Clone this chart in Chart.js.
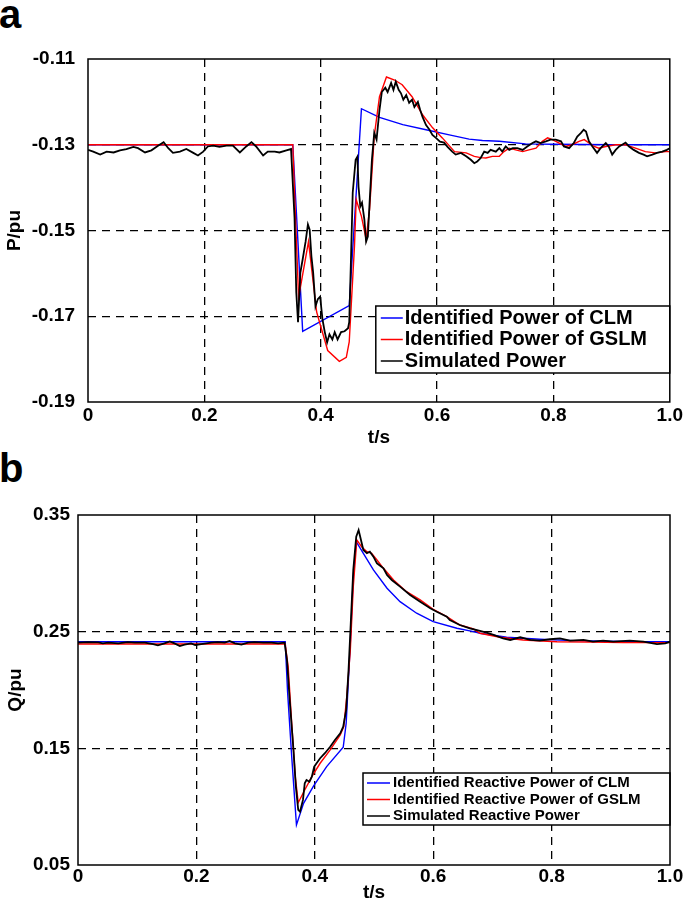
<!DOCTYPE html>
<html>
<head>
<meta charset="utf-8">
<script src="https://cdn.jsdelivr.net/npm/chart.js@4.4.1/dist/chart.umd.min.js"></script>
<style>
    html, body { margin: 0; padding: 0; background: #fff; }
    #page { position: relative; width: 685px; height: 908px; overflow: hidden; }
    canvas { position: absolute; left: 0; }
    .panel { position: absolute; left: -1px; font: bold 40px "Liberation Sans", Arial, sans-serif; line-height: 40px; color: #000; }
</style>
</head>
<body>
<div id="page">
    <div class="panel" style="top:-6px">a</div>
    <div class="panel" style="top:448px">b</div>
    <canvas id="chart-p" width="685" height="455" style="top:0"></canvas>
    <canvas id="chart-q" width="685" height="453" style="top:455px"></canvas>
</div>
<script>
// ---- data ----
const xTickValues = [0, 0.2, 0.4, 0.6, 0.8, 1.0]
const xTickLabels = ["0", "0.2", "0.4", "0.6", "0.8", "1.0"]

const yTickValuesP = [-0.19, -0.17, -0.15, -0.13, -0.11]
const yTickLabelsP = ["-0.19", "-0.17", "-0.15", "-0.13", "-0.11"]
const yTickValuesQ = [0.05, 0.15, 0.25, 0.35]
const yTickLabelsQ = ["0.05", "0.15", "0.25", "0.35"]

const labelsP = ["Identified Power of CLM", "Identified Power of GSLM", "Simulated Power"]
const labelsQ = ["Identified Reactive Power of CLM", "Identified Reactive Power of GSLM", "Simulated Reactive Power"]

// (a) active power
const tBlueP = [0, 0.352, 0.369, 0.449, 0.470, 0.501, 0.541, 0.581, 0.621, 0.655, 0.678, 0.707, 0.752, 0.80, 0.90, 1.0]
const pBlueP = [-0.13, -0.13, -0.1735, -0.1675, -0.1216, -0.1236, -0.1253, -0.1265, -0.1277, -0.1287, -0.1290, -0.1292, -0.1298, -0.1299, -0.1300, -0.1300]

const tRedP = [0, 0.352, 0.355, 0.362, 0.379, 0.393, 0.398, 0.412, 0.432, 0.444,
    0.449, 0.458, 0.461, 0.470, 0.478, 0.484, 0.492, 0.501, 0.513, 0.527,
    0.540, 0.557, 0.575, 0.592, 0.609, 0.630, 0.650, 0.664, 0.675, 0.684,
    0.695, 0.707, 0.715, 0.724, 0.735, 0.747, 0.758, 0.770, 0.781, 0.790,
    0.798, 0.810, 0.821, 0.832, 0.844, 0.853, 0.861, 0.870, 0.878, 0.890,
    0.907, 0.924, 0.941, 0.958, 0.975, 0.993, 1.0]
const pRedP = [-0.13, -0.13, -0.1412, -0.1656, -0.1526, -0.1690, -0.1714, -0.1780, -0.1805, -0.1796,
    -0.1760, -0.1537, -0.1428, -0.1467, -0.1520, -0.1450, -0.1280, -0.1188, -0.1142, -0.1149,
    -0.1160, -0.1188, -0.1230, -0.1260, -0.1284, -0.1316, -0.1319, -0.1327, -0.1330, -0.1331,
    -0.1327, -0.1327, -0.1316, -0.1308, -0.1312, -0.1316, -0.1312, -0.1308, -0.1292, -0.1284,
    -0.1288, -0.1296, -0.1304, -0.1300, -0.1292, -0.1288, -0.1296, -0.1304, -0.1308, -0.1304,
    -0.1300, -0.1300, -0.1308, -0.1316, -0.1319, -0.1316, -0.1316]

const tBlackP = [0, 0.009, 0.021, 0.032, 0.044, 0.055, 0.066, 0.078, 0.086, 0.098,
    0.109, 0.121, 0.130, 0.138, 0.146, 0.158, 0.169, 0.181, 0.189, 0.198,
    0.206, 0.215, 0.226, 0.238, 0.249, 0.261, 0.272, 0.281, 0.289, 0.301,
    0.309, 0.321, 0.329, 0.341, 0.349,
    0.355, 0.358, 0.361, 0.365, 0.369, 0.374, 0.378, 0.381, 0.384, 0.387,
    0.391, 0.395, 0.399, 0.403, 0.407, 0.411, 0.415, 0.420, 0.424, 0.429,
    0.435, 0.441, 0.447, 0.449, 0.452, 0.455, 0.460, 0.463, 0.465, 0.468,
    0.471, 0.475, 0.478, 0.481, 0.484, 0.488, 0.492, 0.496, 0.501, 0.505,
    0.511, 0.515, 0.521, 0.525, 0.529, 0.534, 0.538, 0.542, 0.547, 0.552,
    0.557, 0.561, 0.567, 0.571, 0.575, 0.581, 0.587, 0.592, 0.598, 0.605,
    0.612, 0.618, 0.626, 0.632,
    0.641, 0.650, 0.658, 0.664, 0.669, 0.675, 0.681, 0.687, 0.692, 0.701,
    0.707, 0.712, 0.718, 0.724, 0.730, 0.738, 0.747, 0.755, 0.764, 0.770,
    0.778, 0.787, 0.795, 0.804, 0.813, 0.818, 0.827, 0.835, 0.841, 0.847,
    0.852, 0.856, 0.861, 0.867, 0.875, 0.881, 0.890, 0.895, 0.901, 0.907,
    0.913, 0.918, 0.924, 0.930, 0.938, 0.947, 0.955, 0.961, 0.970, 0.978,
    0.987, 0.995, 1.0]
const pBlackP = [-0.1312, -0.1316, -0.1323, -0.1316, -0.1318, -0.1313, -0.1310, -0.1305, -0.1308, -0.1318,
    -0.1313, -0.1302, -0.1294, -0.1308, -0.1319, -0.1316, -0.1310, -0.1319, -0.1325, -0.1316,
    -0.1304, -0.1302, -0.1305, -0.1302, -0.1302, -0.1318, -0.1304, -0.1294, -0.1304, -0.1325,
    -0.1316, -0.1316, -0.1318, -0.1313, -0.1310,
    -0.1470, -0.1644, -0.1714, -0.1598, -0.1567, -0.1526, -0.1486, -0.1498, -0.1560, -0.1598,
    -0.1677, -0.1660, -0.1654, -0.1707, -0.1737, -0.1761, -0.1742, -0.1754, -0.1737, -0.1754,
    -0.1737, -0.1735, -0.1728, -0.1714, -0.1567, -0.1412, -0.1335, -0.1328, -0.1398, -0.1444,
    -0.1435, -0.1474, -0.1526, -0.1514, -0.1435, -0.1335, -0.1272, -0.1288, -0.1219, -0.1177,
    -0.1167, -0.1177, -0.1156, -0.1172, -0.1153, -0.1172, -0.1180, -0.1195, -0.1184, -0.1202,
    -0.1195, -0.1212, -0.1200, -0.1219, -0.1235, -0.1254, -0.1265, -0.1277, -0.1284, -0.1293,
    -0.1295, -0.1305, -0.1316, -0.1323,
    -0.1319, -0.1327, -0.1335, -0.1343, -0.1339, -0.1331, -0.1316, -0.1319, -0.1312, -0.1316,
    -0.1308, -0.1316, -0.1304, -0.1312, -0.1308, -0.1308, -0.1312, -0.1304, -0.1296, -0.1292,
    -0.1296, -0.1292, -0.1288, -0.1288, -0.1292, -0.1304, -0.1308, -0.1296, -0.1281, -0.1273,
    -0.1265, -0.1269, -0.1292, -0.1304, -0.1319, -0.1308, -0.1296, -0.1304, -0.1323, -0.1312,
    -0.1304, -0.1300, -0.1295, -0.1304, -0.1312, -0.1319, -0.1323, -0.1327, -0.1323, -0.1319,
    -0.1316, -0.1312, -0.1308]

// (b) reactive power
const tBlueQ = [0, 0.350, 0.354, 0.361, 0.369, 0.381, 0.398, 0.420, 0.448, 0.453,
    0.460, 0.465, 0.470, 0.482, 0.499, 0.522, 0.544, 0.572, 0.600, 0.640,
    0.668, 0.679, 0.724, 0.780, 0.837, 0.893, 0.949, 1.0]
const qBlueQ = [0.2414, 0.2414, 0.1986, 0.1429, 0.0843, 0.1029, 0.1178, 0.1343, 0.1509, 0.1715,
    0.2400, 0.2971, 0.3271, 0.3172, 0.3029, 0.2872, 0.2757, 0.2658, 0.2586, 0.2529,
    0.2500, 0.2486, 0.2452, 0.2435, 0.2423, 0.2418, 0.2414, 0.2414]

const tRedQ = [0, 0.350, 0.355, 0.361, 0.367, 0.372, 0.383, 0.395, 0.409, 0.426,
    0.443, 0.449, 0.454, 0.460, 0.465, 0.471, 0.479, 0.488, 0.496, 0.505,
    0.516, 0.533, 0.555, 0.578, 0.600, 0.623, 0.645, 0.668, 0.679, 0.713,
    0.752, 0.809, 0.865, 0.921, 1.0]
const qRedQ = [0.2394, 0.2394, 0.2200, 0.1715, 0.1257, 0.1034, 0.1143, 0.1257, 0.1372, 0.1486,
    0.1615, 0.1686, 0.1943, 0.2343, 0.2886, 0.3286, 0.3228, 0.3185, 0.3172, 0.3114,
    0.3043, 0.2943, 0.2843, 0.2772, 0.2692, 0.2629, 0.2557, 0.2523, 0.2486, 0.2452,
    0.2429, 0.2414, 0.2412, 0.2406, 0.2406]

const tBlackQ = [0, 0.017, 0.034, 0.042, 0.051, 0.068, 0.084, 0.096, 0.113, 0.127,
    0.135, 0.146, 0.155, 0.163, 0.172, 0.180, 0.191, 0.198, 0.208, 0.217,
    0.225, 0.236, 0.248, 0.256, 0.265, 0.276, 0.287, 0.298, 0.313, 0.327,
    0.338, 0.349,
    0.353, 0.358, 0.364, 0.368, 0.372, 0.375, 0.380, 0.383, 0.386, 0.391,
    0.395, 0.399, 0.403, 0.409, 0.417, 0.426, 0.434, 0.443, 0.448, 0.453,
    0.457, 0.461, 0.465, 0.470, 0.474, 0.476, 0.482, 0.488, 0.493, 0.499,
    0.505, 0.511, 0.516, 0.522, 0.530, 0.544, 0.561, 0.578, 0.595, 0.606,
    0.623, 0.628, 0.645, 0.662, 0.674, 0.690, 0.702, 0.718, 0.730, 0.747,
    0.764, 0.780, 0.797, 0.814, 0.831, 0.854, 0.870, 0.887, 0.904, 0.932,
    0.955, 0.978, 0.992, 1.0]
const qBlackQ = [0.2406, 0.2411, 0.2409, 0.2400, 0.2406, 0.2400, 0.2411, 0.2406, 0.2406, 0.2394,
    0.2383, 0.2400, 0.2417, 0.2400, 0.2377, 0.2389, 0.2400, 0.2386, 0.2394, 0.2400,
    0.2406, 0.2411, 0.2406, 0.2420, 0.2400, 0.2389, 0.2406, 0.2411, 0.2406, 0.2406,
    0.2400, 0.2406,
    0.2257, 0.1886, 0.1486, 0.1172, 0.0972, 0.0957, 0.1058, 0.1201, 0.1229, 0.1214,
    0.1257, 0.1343, 0.1372, 0.1415, 0.1458, 0.1514, 0.1572, 0.1629, 0.1686, 0.1829,
    0.2172, 0.2600, 0.3029, 0.3314, 0.3371, 0.3329, 0.3200, 0.3172, 0.3186, 0.3143,
    0.3086, 0.3063, 0.3043, 0.2986, 0.2943, 0.2886, 0.2814, 0.2757, 0.2700, 0.2671,
    0.2629, 0.2600, 0.2557, 0.2529, 0.2514, 0.2491, 0.2472, 0.2443, 0.2429, 0.2452,
    0.2429, 0.2423, 0.2435, 0.2443, 0.2423, 0.2429, 0.2414, 0.2423, 0.2414, 0.2423,
    0.2414, 0.2394, 0.2400, 0.2414]

// ---- drawing ----
const blue = "#0000ff", red = "#ff0000", black = "#000000"
const fontFamily = "'Liberation Sans', Arial, Helvetica, sans-serif"
Chart.defaults.font.family = fontFamily
Chart.defaults.color = "#000"

const points = (xs, ys) => xs.map((x, i) => ({ x, y: ys[i] }))

// frame round the plot and a boxed legend inside it, bottom right
const frameAndLegend = {
    id: "frameAndLegend",
    afterDatasetsDraw(chart, args, opts) {
        const { ctx, chartArea: a } = chart
        const x0 = a.right - opts.width, y0 = a.bottom - opts.gap - opts.height
        ctx.save()
        ctx.fillStyle = "#fff"
        ctx.fillRect(x0, y0, opts.width, opts.height)
        ctx.strokeStyle = "#000"
        ctx.lineWidth = 1.5
        ctx.strokeRect(x0, y0, opts.width, opts.height)
        ctx.font = opts.font
        ctx.textBaseline = "middle"
        chart.data.datasets.forEach((ds, i) => {
            const y = y0 + opts.first + i * opts.row
            ctx.strokeStyle = ds.borderColor
            ctx.lineWidth = 1.5
            ctx.beginPath()
            ctx.moveTo(x0 + opts.lineStart, y)
            ctx.lineTo(x0 + opts.lineEnd, y)
            ctx.stroke()
            ctx.fillStyle = "#000"
            ctx.fillText(ds.label, x0 + opts.textStart, y)
        })
        ctx.strokeStyle = "#000"
        ctx.lineWidth = 1.5
        ctx.strokeRect(a.left, a.top, a.right - a.left, a.bottom - a.top)
        ctx.restore()
    }
}

/**
 * @param {string} id
 * @param {object} cfg
 */
function makeChart(id, cfg) {
    const [yMin, yMax] = [cfg.yTicks[0], cfg.yTicks[cfg.yTicks.length - 1]]
    const tickFont = { size: 19, weight: "bold" }
    const inner = (lo, hi) => c => (Math.abs(c.tick.value - lo) < 1e-9 || Math.abs(c.tick.value - hi) < 1e-9) ? "rgba(0,0,0,0)" : "#000"
    return new Chart(document.getElementById(id), {
        type: "line",
        data: {
            datasets: [
                { label: cfg.labels[0], data: points(cfg.blue[0], cfg.blue[1]), borderColor: blue, backgroundColor: blue, borderWidth: 1.4, order: 3 },
                { label: cfg.labels[1], data: points(cfg.red[0], cfg.red[1]), borderColor: red, backgroundColor: red, borderWidth: 1.4, order: 2 },
                { label: cfg.labels[2], data: points(cfg.black[0], cfg.black[1]), borderColor: black, backgroundColor: black, borderWidth: 1.8, order: 1 }
            ]
        },
        options: {
            responsive: false,
            animation: false,
            devicePixelRatio: 1,
            events: [],
            elements: { point: { radius: 0 }, line: { tension: 0 } },
            layout: { padding: { left: 0, top: cfg.padTop, right: cfg.padRight, bottom: 0 } },
            plugins: {
                legend: { display: false },
                tooltip: { enabled: false },
                frameAndLegend: cfg.legend
            },
            scales: {
                x: {
                    type: "linear",
                    min: 0,
                    max: 1,
                    afterBuildTicks: s => { s.ticks = xTickValues.map(value => ({ value })) },
                    afterFit: s => { s.height = cfg.xHeight },
                    ticks: { callback: (v, i) => xTickLabels[i], font: tickFont, padding: cfg.xTickPad, autoSkip: false, maxRotation: 0 },
                    grid: { color: inner(0, 1), lineWidth: 1.3, drawTicks: false },
                    border: { display: false, dash: [8, 6] },
                    title: { display: true, text: "t/s", font: tickFont, padding: { top: 0, bottom: cfg.xTitlePad } }
                },
                y: {
                    type: "linear",
                    min: yMin,
                    max: yMax,
                    afterBuildTicks: s => { s.ticks = cfg.yTicks.map(value => ({ value })) },
                    afterFit: s => { s.width = cfg.yWidth },
                    ticks: { callback: (v, i) => cfg.yLabels[i], font: tickFont, padding: cfg.yTickPad, autoSkip: false },
                    grid: { color: inner(yMin, yMax), lineWidth: 1.3, drawTicks: false },
                    border: { display: false, dash: [8, 6] },
                    title: { display: true, text: cfg.yTitle, font: tickFont, padding: { top: cfg.yTitlePad, bottom: 0 } }
                }
            }
        },
        plugins: [frameAndLegend]
    })
}

makeChart("chart-p", {
    labels: labelsP,
    blue: [tBlueP, pBlueP], red: [tRedP, pRedP], black: [tBlackP, pBlackP],
    yTicks: yTickValuesP, yLabels: yTickLabelsP, yTitle: "P/pu",
    padTop: 59, padRight: 14, yWidth: 88, xHeight: 53,
    yTickPad: 13, xTickPad: 2, xTitlePad: 6, yTitlePad: 3,
    legend: { width: 294, height: 67, gap: 29, first: 12, row: 21.5, lineStart: 5, lineEnd: 27, textStart: 29, font: "bold 20px " + fontFamily }
})

makeChart("chart-q", {
    labels: labelsQ,
    blue: [tBlueQ, qBlueQ], red: [tRedQ, qRedQ], black: [tBlackQ, qBlackQ],
    yTicks: yTickValuesQ, yLabels: yTickLabelsQ, yTitle: "Q/pu",
    padTop: 60, padRight: 15, yWidth: 78, xHeight: 43,
    yTickPad: 8, xTickPad: 0, xTitlePad: 4, yTitlePad: 4,
    legend: { width: 307, height: 52, gap: 40, first: 10, row: 16.5, lineStart: 4, lineEnd: 27, textStart: 30, font: "bold 15px " + fontFamily }
})
</script>
</body>
</html>
